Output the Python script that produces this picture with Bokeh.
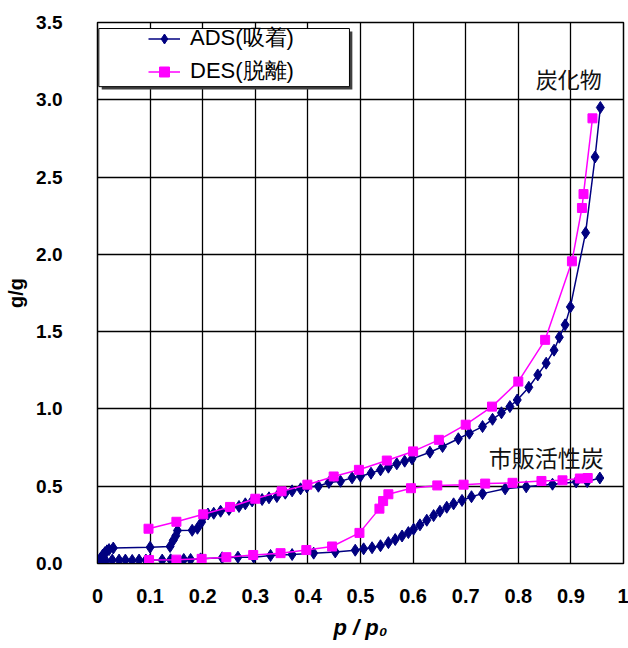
from bokeh.plotting import figure
from bokeh.models import (Range1d, FixedTicker, Legend, LegendItem, Label,
                          BoxAnnotation, NumeralTickFormatter)
from bokeh.embed import file_html
from bokeh.resources import INLINE

# ---------------- data ----------------
x_ticks = [0, 0.1, 0.2, 0.3, 0.4, 0.5, 0.6, 0.7, 0.8, 0.9, 1]
y_ticks = [0, 0.5, 1.0, 1.5, 2.0, 2.5, 3.0, 3.5]

# 炭化物 (char) adsorption
char_ads_x = [0.000, 0.003, 0.006, 0.010, 0.014, 0.018, 0.022, 0.030, 0.100, 0.138,
              0.144, 0.149, 0.152, 0.180, 0.190, 0.198, 0.202, 0.210, 0.221, 0.234,
              0.250, 0.269, 0.281, 0.294, 0.313, 0.326, 0.341, 0.357, 0.370, 0.386,
              0.398, 0.420, 0.440, 0.462, 0.484, 0.500, 0.520, 0.538, 0.553, 0.569,
              0.584, 0.598, 0.632, 0.656, 0.686, 0.707, 0.732, 0.751, 0.768, 0.784,
              0.798, 0.820, 0.837, 0.853, 0.868, 0.878, 0.889, 0.899, 0.928, 0.946,
              0.956]
char_ads_y = [0.000, 0.015, 0.035, 0.055, 0.070, 0.082, 0.090, 0.100, 0.105, 0.110,
              0.150, 0.180, 0.213, 0.215, 0.228, 0.268, 0.305, 0.320, 0.325, 0.338,
              0.350, 0.369, 0.386, 0.405, 0.414, 0.425, 0.433, 0.455, 0.470, 0.483,
              0.495, 0.500, 0.524, 0.532, 0.554, 0.565, 0.584, 0.606, 0.623, 0.645,
              0.662, 0.677, 0.720, 0.757, 0.807, 0.843, 0.886, 0.933, 0.975, 1.015,
              1.058, 1.140, 1.220, 1.296, 1.380, 1.464, 1.544, 1.660, 2.140, 2.630,
              2.950]

# 炭化物 (char) desorption
char_des_x = [0.097, 0.150, 0.201, 0.252, 0.300, 0.350, 0.399, 0.449, 0.497, 0.550,
              0.600, 0.649, 0.700, 0.750, 0.800, 0.851, 0.902, 0.921, 0.924, 0.941]
char_des_y = [0.225, 0.270, 0.318, 0.366, 0.419, 0.467, 0.510, 0.563, 0.606, 0.666,
              0.725, 0.800, 0.898, 1.015, 1.177, 1.447, 1.955, 2.300, 2.390, 2.880]

# 市販活性炭 (commercial activated carbon) adsorption
comm_ads_x = [0.000, 0.005, 0.010, 0.016, 0.028, 0.041, 0.053, 0.066, 0.079, 0.092,
              0.100, 0.123, 0.139, 0.164, 0.177, 0.196, 0.237, 0.267, 0.297, 0.329,
              0.370, 0.411, 0.452, 0.490, 0.506, 0.522, 0.538, 0.553, 0.566, 0.579,
              0.591, 0.601, 0.613, 0.626, 0.639, 0.651, 0.664, 0.677, 0.693, 0.711,
              0.732, 0.775, 0.815, 0.865, 0.910, 0.931, 0.955]
comm_ads_y = [0.000, 0.005, 0.010, 0.015, 0.022, 0.022, 0.022, 0.020, 0.022, 0.022,
              0.022, 0.022, 0.024, 0.026, 0.026, 0.030, 0.037, 0.041, 0.041, 0.052,
              0.058, 0.067, 0.075, 0.086, 0.095, 0.102, 0.115, 0.135, 0.155, 0.178,
              0.200, 0.222, 0.250, 0.280, 0.310, 0.338, 0.364, 0.386, 0.408, 0.432,
              0.452, 0.483, 0.496, 0.513, 0.528, 0.530, 0.553]

# 市販活性炭 (commercial activated carbon) desorption
comm_des_x = [0.098, 0.150, 0.198, 0.245, 0.296, 0.348, 0.397, 0.446, 0.498, 0.536,
              0.543, 0.553, 0.596, 0.646, 0.696, 0.737, 0.789, 0.844, 0.884, 0.917,
              0.932]
comm_des_y = [0.022, 0.025, 0.030, 0.041, 0.055, 0.067, 0.087, 0.110, 0.198, 0.355,
              0.404, 0.448, 0.487, 0.505, 0.510, 0.517, 0.522, 0.534, 0.538, 0.550,
              0.553]

legend_labels = ["ADS(吸着)", "DES(脱離)"]
series_names = ["炭化物", "市販活性炭"]

# ---------------- styles ----------------
NAVY = "#000080"
MAGENTA = "#FF00FF"
LATIN = "Liberation Sans"
CJK = "Noto Sans CJK JP"

p = figure(width=628, height=648, x_range=Range1d(0, 1), y_range=Range1d(0, 3.5),
           output_backend="svg", toolbar_location=None,
           min_border_left=97, min_border_right=5, min_border_top=22,
           min_border_bottom=85, background_fill_color="white",
           border_fill_color="white")

p.outline_line_color = "black"
p.outline_line_width = 1.5

for ax in (p.xaxis, p.yaxis):
    ax.major_label_text_font = LATIN
    ax.major_label_text_font_style = "bold"
    ax.major_label_text_font_size = "19px"
    ax.major_label_text_color = "black"
    ax.axis_line_color = "black"
    ax.major_tick_in = 0
    ax.major_tick_out = 0
    ax.minor_tick_in = 0
    ax.minor_tick_out = 0
    ax.axis_label_text_color = "black"
    ax.axis_label_text_font = LATIN

p.xaxis.major_label_text_font_size = "20px"
p.xaxis.ticker = FixedTicker(ticks=x_ticks)
p.yaxis.ticker = FixedTicker(ticks=y_ticks)
p.xaxis.formatter = NumeralTickFormatter(format="0.0")
p.yaxis.formatter = NumeralTickFormatter(format="0.0")
p.xaxis.major_label_overrides = {0: "0", 1: "1"}
p.xaxis.major_label_standoff = 25
p.yaxis.major_label_standoff = 35

p.yaxis.axis_label = "g/g"
p.yaxis.axis_label_text_font_style = "bold"
p.yaxis.axis_label_text_font_size = "20px"
p.yaxis.axis_label_standoff = 6

p.xaxis.axis_label = "p / p₀"
p.xaxis.axis_label_text_font_style = "bold italic"
p.xaxis.axis_label_text_font_size = "22px"
p.xaxis.axis_label_standoff = 9

p.xgrid.ticker = FixedTicker(ticks=x_ticks)
p.ygrid.ticker = FixedTicker(ticks=y_ticks)
for g in (p.xgrid, p.ygrid):
    g.grid_line_color = "black"
    g.grid_line_width = 1.3
    g.grid_line_alpha = 1.0

# series: adsorption first, desorption on top
ads_l1 = p.line(char_ads_x, char_ads_y, line_color=NAVY, line_width=1.5)
ads_m1 = p.scatter(char_ads_x, char_ads_y, marker="diamond", size=12,
                   fill_color=NAVY, line_color=NAVY)
ads_l2 = p.line(comm_ads_x, comm_ads_y, line_color=NAVY, line_width=1.5)
ads_m2 = p.scatter(comm_ads_x, comm_ads_y, marker="diamond", size=12,
                   fill_color=NAVY, line_color=NAVY)
des_l1 = p.line(char_des_x, char_des_y, line_color=MAGENTA, line_width=1.5)
des_m1 = p.scatter(char_des_x, char_des_y, marker="square", size=9,
                   fill_color=MAGENTA, line_color=MAGENTA)
des_l2 = p.line(comm_des_x, comm_des_y, line_color=MAGENTA, line_width=1.5)
des_m2 = p.scatter(comm_des_x, comm_des_y, marker="square", size=9,
                   fill_color=MAGENTA, line_color=MAGENTA)

# legend frame with shadow
p.add_layout(BoxAnnotation(left=0.008, right=0.4845, top=3.441, bottom=3.066,
                           fill_color="#404040", fill_alpha=1.0, line_alpha=0))
p.add_layout(BoxAnnotation(left=0.0025, right=0.479, top=3.461, bottom=3.085,
                           fill_color="white", fill_alpha=1.0,
                           line_color="black", line_width=1, line_alpha=1.0))

legend = Legend(items=[LegendItem(label=legend_labels[0], renderers=[ads_l1, ads_m1]),
                       LegendItem(label=legend_labels[1], renderers=[des_l1, des_m1])],
                location=(51, 477), padding=0, margin=0, spacing=3,
                glyph_width=32, glyph_height=25, label_height=25, label_standoff=10,
                label_text_font=LATIN, label_text_font_size="22px",
                label_text_color="black",
                border_line_alpha=0, background_fill_alpha=0)
p.add_layout(legend)

# series annotations
p.add_layout(Label(x=0.896, y=3.14, text=series_names[0], text_align="center",
                   text_baseline="middle", text_font=CJK, text_font_size="22px",
                   text_color="#111111"))
p.add_layout(Label(x=0.853, y=0.686, text=series_names[1], text_align="center",
                   text_baseline="middle", text_font=CJK, text_font_size="23px",
                   text_color="#111111"))

open("out.html", "w").write(file_html(p, INLINE))
